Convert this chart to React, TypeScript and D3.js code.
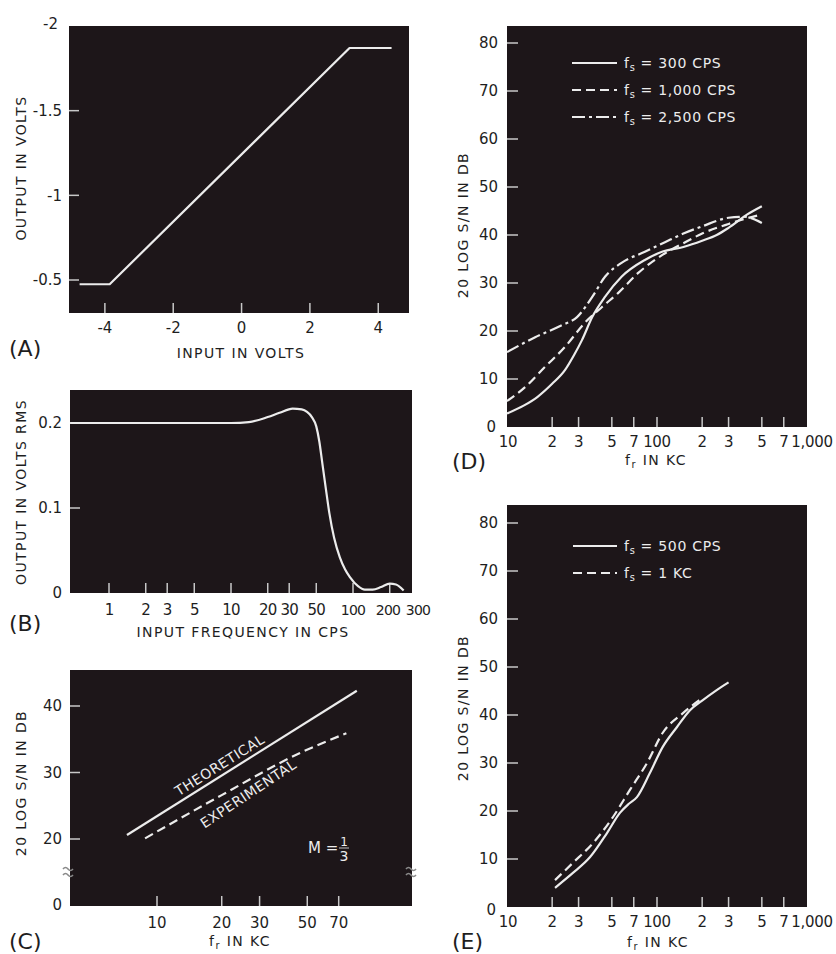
import React from 'react';
import * as d3 from 'd3';

// ---------- Panel A ----------
const aInput = [-4.74, -3.86, 3.16, 4.39];
const aOutput = [-0.475, -0.475, -1.87, -1.87];
const aXTicks = [-4, -2, 0, 2, 4];
const aYTicks = [-1.5, -1, -0.5];

// ---------- Panel B ----------
const bFreq = [0.48, 1, 5, 10, 14, 20, 25, 32, 38, 42, 46, 50, 53, 56, 60, 64, 70, 78, 86, 94, 110, 125, 145, 170, 200, 225, 260];
const bOut = [0.2, 0.2, 0.2, 0.2, 0.201, 0.207, 0.212, 0.217, 0.216, 0.213, 0.207, 0.196, 0.178, 0.153, 0.122, 0.094, 0.065, 0.042, 0.028, 0.019, 0.008, 0.004, 0.004, 0.007, 0.011, 0.01, 0.003];
const bXTicks = [1, 2, 3, 5, 10, 20, 30, 50, 100, 200, 300];
const bXLabels = ['1', '2', '3', '5', '10', '20', '30', '50', '100', '200', '300'];
const bYTicks = [0, 0.1, 0.2];
const bYLabels = ['0', '0.1', '0.2'];

// ---------- Panel C ----------
const cTheoFreq = [7.25, 85];
const cTheoDb = [20.6, 42.3];
const cExpFreq = [8.8, 20, 46, 76];
const cExpDb = [20.1, 26.6, 32.9, 35.9];
const cXTicks = [10, 20, 30, 50, 70];
const cYTicks = [20, 30, 40];

// ---------- Panel D ----------
const d300Freq = [10, 13, 16, 20, 24.4, 28, 31.6, 37, 45, 58, 83, 108, 150, 200, 250, 300, 400, 500];
const d300Db = [2.8, 4.5, 6.3, 9, 11.9, 15, 18.1, 22.9, 27.1, 31.3, 34.8, 36.5, 37.5, 38.8, 40, 41.5, 44.3, 46];
const d1000Freq = [10, 13.2, 17.9, 24.4, 33, 43, 55, 75, 108, 150, 200, 300, 400, 500];
const d1000Db = [5.4, 8.3, 12.5, 16.7, 21.7, 25, 27.9, 32.1, 35.8, 38.3, 40.3, 42.3, 43.5, 44.3];
const d2500Freq = [10, 15.4, 23.2, 29.3, 37, 45, 58, 83, 113, 150, 200, 300, 380, 500];
const d2500Db = [15.6, 18.7, 21.2, 22.9, 27.1, 31.3, 34.2, 36.5, 38.5, 40.3, 41.8, 43.6, 43.8, 42.5];

// ---------- Panel E ----------
const e500Freq = [20.9, 27.5, 35.8, 46.4, 56.6, 65, 73.5, 89.6, 109, 136, 166, 200, 250, 300];
const e500Db = [4, 7.1, 10.4, 15.4, 19.6, 21.5, 22.9, 27.9, 33.3, 37.5, 41, 43, 45.2, 46.8];
const e1kFreq = [20.9, 27.5, 37.4, 50.9, 66, 85.8, 109, 149, 200];
const e1kDb = [5.6, 9.2, 13.3, 18.75, 24.4, 30, 36.25, 40.4, 43.5];

const deXTicks = [10, 20, 30, 50, 70, 100, 200, 300, 500, 700, 1000];
const deXLabels = ['10', '2', '3', '5', '7', '100', '2', '3', '5', '7', '1,000'];
const deYTicks = [0, 10, 20, 30, 40, 50, 60, 70, 80];

const FONT = "'DejaVu Sans', 'Liberation Sans', sans-serif";
const BG = '#1d1619';
const LINE = '#ececec';
const TICK = '#c8c8c8';
const INK = '#1e1e1e';

const zip = (a: number[], b: number[]) => a.map((v, i) => [v, b[i]] as [number, number]);

function Frame({ x0, x1, y0, y1 }: { x0: number; x1: number; y0: number; y1: number }) {
  return <rect x={x0} y={y0} width={x1 - x0} height={y1 - y0} fill={BG} />;
}

function Sub({ main, sub, rest }: { main: string; sub: string; rest: string }) {
  return (
    <>
      <tspan>{main}</tspan>
      <tspan dy={3} fontSize="0.7em">{sub}</tspan>
      <tspan dy={-3}>{rest}</tspan>
    </>
  );
}

export default function App() {
  // ---- A scales
  const ax = d3.scaleLinear().domain([-5.05, 4.9]).range([69, 409]);
  const ay = d3.scaleLinear().domain([-0.5, -2]).range([280, 26]);
  const aPath = d3.line<[number, number]>().x(d => ax(d[0])).y(d => ay(d[1]))(zip(aInput, aOutput));

  // ---- B scales
  const bx = d3.scaleLog().domain([1, 100]).range([109, 353]);
  const by = d3.scaleLinear().domain([0, 0.2]).range([593, 423]);
  const bPath = d3.line<[number, number]>().x(d => bx(d[0])).y(d => by(d[1])).curve(d3.curveMonotoneX)(zip(bFreq, bOut));

  // ---- C scales
  const cx = d3.scaleLog().domain([10, 100]).range([157, 372]);
  const cy = d3.scaleLinear().domain([20, 40]).range([839, 706]);
  const cLine = d3.line<[number, number]>().x(d => cx(d[0])).y(d => cy(d[1])).curve(d3.curveMonotoneX);
  const theoPath = cLine(zip(cTheoFreq, cTheoDb));
  const expPath = cLine(zip(cExpFreq, cExpDb));
  const theoT = Math.log(20.7 / cTheoFreq[0]) / Math.log(cTheoFreq[1] / cTheoFreq[0]);
  const theoAnchor = [cx(20.7), cy(cTheoDb[0] + theoT * (cTheoDb[1] - cTheoDb[0]))];
  const theoAngle = (Math.atan2(cy(cTheoDb[1]) - cy(cTheoDb[0]), cx(cTheoFreq[1]) - cx(cTheoFreq[0])) * 180) / Math.PI;
  const expAnchor = [cx(24.9), cy(28.2)];

  // ---- D / E scales
  const dx = d3.scaleLog().domain([10, 1000]).range([507, 807]);
  const dy = d3.scaleLinear().domain([0, 80]).range([427, 43]);
  const ey = d3.scaleLinear().domain([0, 80]).range([907, 523]);
  const dLine = d3.line<[number, number]>().x(d => dx(d[0])).y(d => dy(d[1])).curve(d3.curveMonotoneX);
  const eLine = d3.line<[number, number]>().x(d => dx(d[0])).y(d => ey(d[1])).curve(d3.curveMonotoneX);

  const tickLbl = { fontFamily: FONT, fontSize: 15, fill: INK } as const;
  const title = { fontFamily: FONT, fontSize: 14, fill: INK, letterSpacing: 1.4 } as const;
  const panelLbl = { fontFamily: FONT, fontSize: 22, fill: INK } as const;
  const curve = { fill: 'none', stroke: LINE, strokeWidth: 2.2, strokeLinejoin: 'round' as const };
  const DASH = '9 5';
  const DASHDOT = '13 4 3 4';

  const breakMark = (x: number, y: number, k: string) => (
    <g key={k} transform={`translate(${x},${y})`} fill="none" stroke="#8a8a8a" strokeWidth={1.6}>
      <path d="M -5 -3 q 2.5 -3 5 0 t 5 0" />
      <path d="M -5 3 q 2.5 -3 5 0 t 5 0" />
    </g>
  );

  return (
    <svg width={836} height={954} style={{ position: 'absolute', left: 0, top: 0, background: '#fff' }}>
      <rect x={0} y={0} width={836} height={954} fill="#fff" />

      {/* ================= Panel A ================= */}
      <Frame x0={69} x1={409} y0={26} y1={313} />
      {aYTicks.map(t => (
        <line key={t} x1={69} x2={79} y1={ay(t)} y2={ay(t)} stroke={TICK} strokeWidth={1.5} />
      ))}
      {aXTicks.map(t => (
        <line key={t} x1={ax(t)} x2={ax(t)} y1={313} y2={303} stroke={TICK} strokeWidth={1.5} />
      ))}
      <path d={aPath!} {...curve} />
      {aYTicks.map(t => (
        <text key={t} x={62} y={ay(t)} dy="0.36em" textAnchor="end" {...tickLbl}>{String(t)}</text>
      ))}
      <text x={58} y={ay(-2)} dy="0.2em" textAnchor="end" {...tickLbl}>-2</text>
      {aXTicks.map(t => (
        <text key={t} x={ax(t)} y={333} textAnchor="middle" {...tickLbl}>{String(t)}</text>
      ))}
      <text x={241} y={358} textAnchor="middle" {...title}>INPUT IN VOLTS</text>
      <text transform={`translate(26,168) rotate(-90)`} textAnchor="middle" {...title}>OUTPUT IN VOLTS</text>
      <text x={9} y={356} {...panelLbl}>(A)</text>

      {/* ================= Panel B ================= */}
      <Frame x0={70} x1={412} y0={390} y1={593} />
      {[0.1, 0.2].map(t => (
        <line key={t} x1={70} x2={80} y1={by(t)} y2={by(t)} stroke={TICK} strokeWidth={1.5} />
      ))}
      {bXTicks.slice(0, 10).map(t => (
        <line key={t} x1={bx(t)} x2={bx(t)} y1={593} y2={583} stroke={TICK} strokeWidth={1.5} />
      ))}
      <path d={bPath!} {...curve} />
      {bYTicks.map((t, i) => (
        <text key={t} x={62} y={by(t)} dy="0.36em" textAnchor="end" {...tickLbl}>{bYLabels[i]}</text>
      ))}
      {bXTicks.map((t, i) => (
        <text
          key={t}
          x={i === bXTicks.length - 1 ? 418 : i === bXTicks.length - 2 ? 388 : bx(t)}
          y={615}
          textAnchor="middle"
          {...tickLbl}
          fontSize={i >= bXTicks.length - 3 ? 14 : 15}
          letterSpacing={-0.8}
        >{bXLabels[i]}</text>
      ))}
      <text x={243} y={637} textAnchor="middle" {...title}>INPUT FREQUENCY IN CPS</text>
      <text transform={`translate(26,492) rotate(-90)`} textAnchor="middle" {...title}>OUTPUT IN VOLTS RMS</text>
      <text x={9} y={631} {...panelLbl}>(B)</text>

      {/* ================= Panel C ================= */}
      <Frame x0={70} x1={412} y0={670} y1={906} />
      {cYTicks.map(t => (
        <line key={t} x1={70} x2={80} y1={cy(t)} y2={cy(t)} stroke={TICK} strokeWidth={1.5} />
      ))}
      {cXTicks.map(t => (
        <line key={t} x1={cx(t)} x2={cx(t)} y1={906} y2={896} stroke={TICK} strokeWidth={1.5} />
      ))}
      <path d={theoPath!} {...curve} />
      <path d={expPath!} {...curve} strokeDasharray={DASH} />
      <text
        transform={`translate(${theoAnchor[0]},${theoAnchor[1]}) rotate(${theoAngle})`}
        x={0} y={-5} textAnchor="middle"
        fontFamily={FONT} fontSize={14} fill={LINE} letterSpacing={0.5}
      >THEORETICAL</text>
      <text
        transform={`translate(${expAnchor[0]},${expAnchor[1]}) rotate(${theoAngle - 1.5})`}
        x={0} y={16} textAnchor="middle"
        fontFamily={FONT} fontSize={14} fill={LINE} letterSpacing={0.5}
      >EXPERIMENTAL</text>
      <text x={308} y={853} fontFamily={FONT} fontSize={15} fill={LINE}>M =</text>
      <text x={344} y={846} textAnchor="middle" fontFamily={FONT} fontSize={12} fill={LINE}>1</text>
      <line x1={339} x2={349} y1={848} y2={848} stroke={LINE} strokeWidth={0.8} />
      <text x={344} y={861} textAnchor="middle" fontFamily={FONT} fontSize={14} fill={LINE}>3</text>
      {breakMark(68, 872, 'bl')}
      {breakMark(411, 872, 'br')}
      {cYTicks.map(t => (
        <text key={t} x={62} y={cy(t)} dy="0.36em" textAnchor="end" {...tickLbl}>{String(t)}</text>
      ))}
      <text x={62} y={905} dy="0.36em" textAnchor="end" {...tickLbl}>0</text>
      {cXTicks.map(t => (
        <text key={t} x={cx(t)} y={928} textAnchor="middle" {...tickLbl}>{String(t)}</text>
      ))}
      <text x={240} y={946} textAnchor="middle" {...title}>
        <Sub main="f" sub="r" rest=" IN KC" />
      </text>
      <text transform={`translate(26,783) rotate(-90)`} textAnchor="middle" {...title}>20 LOG S/N IN DB</text>
      <text x={9} y={949} {...panelLbl}>(C)</text>

      {/* ================= Panel D ================= */}
      <Frame x0={507} x1={807} y0={26} y1={427} />
      {deYTicks.slice(1).map(t => (
        <line key={t} x1={507} x2={518} y1={dy(t)} y2={dy(t)} stroke={TICK} strokeWidth={1.5} />
      ))}
      {deXTicks.slice(1, -1).map(t => (
        <line key={t} x1={dx(t)} x2={dx(t)} y1={427} y2={417} stroke={TICK} strokeWidth={1.5} />
      ))}
      <path d={dLine(zip(d300Freq, d300Db))!} {...curve} />
      <path d={dLine(zip(d1000Freq, d1000Db))!} {...curve} strokeDasharray={DASH} />
      <path d={dLine(zip(d2500Freq, d2500Db))!} {...curve} strokeDasharray={DASHDOT} />
      {/* legend D */}
      <line x1={572} x2={617} y1={63} y2={63} stroke={LINE} strokeWidth={2.2} />
      <line x1={572} x2={617} y1={90} y2={90} stroke={LINE} strokeWidth={2.2} strokeDasharray={DASH} />
      <line x1={572} x2={617} y1={117} y2={117} stroke={LINE} strokeWidth={2.2} strokeDasharray={DASHDOT} />
      <text x={624} y={68} fontFamily={FONT} fontSize={14} fill={LINE} letterSpacing={0.7}>
        <Sub main="f" sub="s" rest=" = 300 CPS" />
      </text>
      <text x={624} y={95} fontFamily={FONT} fontSize={14} fill={LINE} letterSpacing={0.7}>
        <Sub main="f" sub="s" rest=" = 1,000 CPS" />
      </text>
      <text x={624} y={122} fontFamily={FONT} fontSize={14} fill={LINE} letterSpacing={0.7}>
        <Sub main="f" sub="s" rest=" = 2,500 CPS" />
      </text>
      {deYTicks.map(t => (
        <text key={t} x={t === 0 ? 496 : 498} y={dy(t)} dy="0.36em" textAnchor="end" {...tickLbl}>{String(t)}</text>
      ))}
      {deXTicks.map((t, i) => (
        <text key={t} x={i === deXTicks.length - 1 ? 812 : dx(t) + (i === 0 ? 1 : 0)} y={447} textAnchor="middle" {...tickLbl} letterSpacing={-0.3}>{deXLabels[i]}</text>
      ))}
      <text x={656} y={465} textAnchor="middle" {...title}>
        <Sub main="f" sub="r" rest=" IN KC" />
      </text>
      <text transform={`translate(468,225) rotate(-90)`} textAnchor="middle" {...title}>20 LOG S/N IN DB</text>
      <text x={452} y={469} {...panelLbl}>(D)</text>

      {/* ================= Panel E ================= */}
      <Frame x0={507} x1={807} y0={505} y1={907} />
      {deYTicks.slice(1).map(t => (
        <line key={t} x1={507} x2={518} y1={ey(t)} y2={ey(t)} stroke={TICK} strokeWidth={1.5} />
      ))}
      {deXTicks.slice(1, -1).map(t => (
        <line key={t} x1={dx(t)} x2={dx(t)} y1={907} y2={897} stroke={TICK} strokeWidth={1.5} />
      ))}
      <path d={eLine(zip(e500Freq, e500Db))!} {...curve} />
      <path d={eLine(zip(e1kFreq, e1kDb))!} {...curve} strokeDasharray={DASH} />
      <line x1={573} x2={617} y1={546} y2={546} stroke={LINE} strokeWidth={2.2} />
      <line x1={573} x2={617} y1={573} y2={573} stroke={LINE} strokeWidth={2.2} strokeDasharray={DASH} />
      <text x={624} y={551} fontFamily={FONT} fontSize={14} fill={LINE} letterSpacing={0.7}>
        <Sub main="f" sub="s" rest=" = 500 CPS" />
      </text>
      <text x={624} y={578} fontFamily={FONT} fontSize={14} fill={LINE} letterSpacing={0.7}>
        <Sub main="f" sub="s" rest=" = 1 KC" />
      </text>
      {deYTicks.map(t => (
        <text key={t} x={t === 0 ? 496 : 498} y={t === 0 ? 910 : ey(t)} dy="0.36em" textAnchor="end" {...tickLbl}>{String(t)}</text>
      ))}
      {deXTicks.map((t, i) => (
        <text key={t} x={i === deXTicks.length - 1 ? 812 : dx(t) + (i === 0 ? 1 : 0)} y={927} textAnchor="middle" {...tickLbl} letterSpacing={-0.3}>{deXLabels[i]}</text>
      ))}
      <text x={658} y={947} textAnchor="middle" {...title}>
        <Sub main="f" sub="r" rest=" IN KC" />
      </text>
      <text transform={`translate(468,708) rotate(-90)`} textAnchor="middle" {...title}>20 LOG S/N IN DB</text>
      <text x={452} y={949} {...panelLbl}>(E)</text>
    </svg>
  );
}
